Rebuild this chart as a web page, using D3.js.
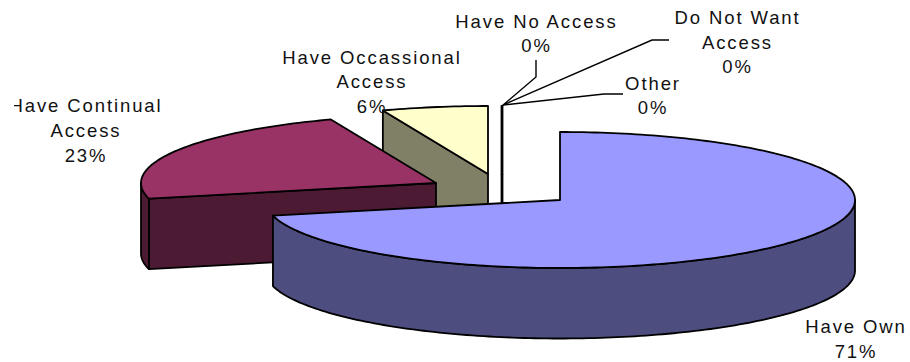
<!DOCTYPE html>
<html><head><meta charset="utf-8">
<script src="https://cdn.jsdelivr.net/npm/d3@7"></script>
<style>html,body{margin:0;padding:0;background:#fff}svg{display:block}text{font-family:"Liberation Sans",Arial,sans-serif;font-size:18.5px;fill:#111;letter-spacing:1.9px}</style>
</head><body><div id="c"></div>
<script>
const categories = ["Have Own","Have Continual Access","Have Occassional Access","Have No Access","Do Not Want Access","Other"];
const values = [71.3,22.9,5.8,0,0,0];
const labelLines = [["Have Own","71%"],["Have Continual","Access","23%"],["Have Occassional","Access","6%"],["Have No Access","0%"],["Do Not Want","Access","0%"],["Other","0%"]];
const topColors = ["#9999FF","#993366","#FFFFCC","#FFFFFF","#FFFFFF","#FFFFFF"];
const sideColors = ["#4D4D80","#4D1A33","#808066","#808080","#808080","#808080"];

const W=910,H=362, RX=295, RY=68, DEPTH=70.5;
const centers=[[560,200],[436,183],[488,174],[501.5,174],[502,174],[502.5,174]];
const labelPos=[[856,333],[86,112],[372,64],[536.5,28],[737.5,24],[653,90]];
const labelGap=[25,25,24.3,24,24.7,24];
const leaders=[null,null,null,[[502,106],[536,77],[536,60]],[[503,105],[652,40],[669,40]],[[503,105],[604,94],[623,94]]];
const drawOrder=[5,4,3,2,1,0];

const svg=d3.select("#c").append("svg").attr("width",W).attr("height",H);
const pie=d3.pie().sort(null)(values);
const sx=d3.scaleLinear().domain([-1,1]).range([-RX,RX]);
const sy=d3.scaleLinear().domain([-1,1]).range([-RY,RY]);
const pt=(c,a,dz=0)=>[c[0]+sx(Math.sin(a)),c[1]-sy(Math.cos(a))+dz];
const line=d3.line();
const sampled=(a0,a1)=>{const n=Math.max(1,Math.ceil(Math.abs(a1-a0)/0.02));return d3.range(n+1).map(i=>a0+(a1-a0)*i/n);};
const stroke=g=>g.attr("stroke","#000").attr("stroke-width",1.8).attr("stroke-linejoin","round");

drawOrder.forEach(i=>{
  const d=pie[i],c=centers[i],a0=d.startAngle,a1=d.endAngle;
  const g=svg.append("g");
  if(i===1||i===2){
    const face=[pt(c,a0),c,[c[0],c[1]+DEPTH],pt(c,a0,DEPTH)];
    stroke(g.append("path").attr("d",line(face)+"Z").attr("fill",sideColors[i]));
  }
  const rimStart=Math.max(a0,i===0?Math.PI/2:a0), rimEnd=i===0?a1:Math.min(a1,3*Math.PI/2);
  if(rimEnd>rimStart && d.value>0){
    const arc=sampled(rimStart,rimEnd);
    const poly=arc.map(a=>pt(c,a)).concat(arc.slice().reverse().map(a=>pt(c,a,DEPTH)));
    stroke(g.append("path").attr("d",line(poly)+"Z").attr("fill",sideColors[i]));
  }
  const top=d.value>0?[c].concat(sampled(a0,a1).map(a=>pt(c,a))):[c,pt(c,a0)];
  stroke(g.append("path").attr("d",line(top)+"Z").attr("fill",topColors[i]));
  if(d.value===0){
    stroke(g.append("path").attr("d",line([c,[c[0],c[1]+DEPTH]])).attr("fill","none"));
  }
});

leaders.forEach(l=>{ if(l) svg.append("path").attr("d",line(l)).attr("fill","none").attr("stroke","#000").attr("stroke-width",1.4); });

svg.append("clipPath").attr("id","pg").append("rect").attr("x",14).attr("y",0).attr("width",W-14).attr("height",H);
const labels=svg.append("g").attr("clip-path","url(#pg)");
labelLines.forEach((ls,i)=>{
  ls.forEach((s,j)=>{
    labels.append("text").attr("x",labelPos[i][0]).attr("y",labelPos[i][1]+j*labelGap[i]).attr("text-anchor","middle").text(s);
  });
});
</script></body></html>
